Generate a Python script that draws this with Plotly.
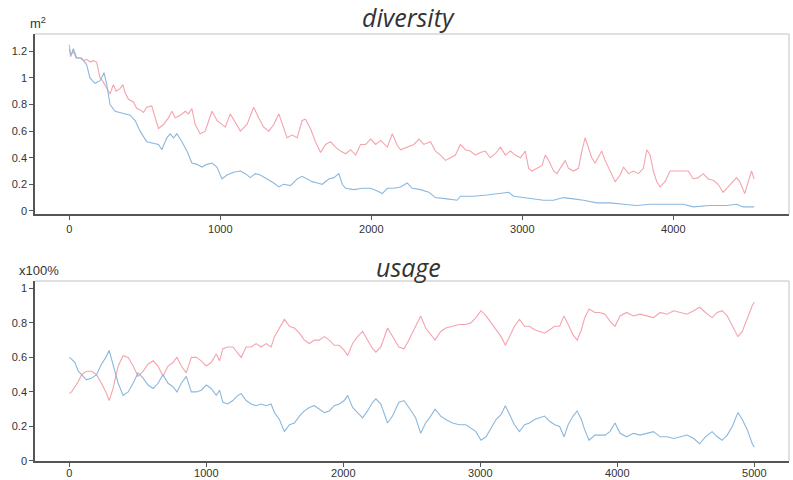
import plotly.graph_objects as go

# ---------------- data: diversity ----------------
div_red_x = [0, 8, 15, 27, 45, 71, 95, 115, 140, 159,
             181, 195, 204, 220, 248, 270, 292, 310, 336, 355,
             369, 392, 425, 447, 470, 491, 513, 546, 569, 591,
             624, 657, 679, 701, 735, 768, 790, 812, 834, 867,
             900, 945, 978, 1000, 1033, 1066, 1100, 1133, 1177, 1221,
             1254, 1288, 1321, 1354, 1388, 1420, 1442, 1476, 1509, 1542,
             1564, 1597, 1630, 1664, 1697, 1730, 1763, 1796, 1830, 1863,
             1896, 1929, 1962, 1996, 2029, 2062, 2106, 2139, 2173, 2194,
             2238, 2282, 2315, 2348, 2392, 2425, 2458, 2491, 2524, 2557,
             2590, 2623, 2656, 2689, 2722, 2755, 2788, 2821, 2855, 2888,
             2921, 2954, 2987, 3020, 3042, 3064, 3097, 3130, 3152, 3174,
             3207, 3229, 3251, 3284, 3306, 3339, 3372, 3394, 3416, 3438,
             3460, 3482, 3504, 3526, 3548, 3581, 3615, 3648, 3670, 3703,
             3736, 3769, 3802, 3824, 3846, 3868, 3890, 3912, 3945, 3978,
             4022, 4066, 4099, 4132, 4165, 4198, 4231, 4264, 4297, 4330,
             4363, 4396, 4418, 4440, 4473, 4496, 4518, 4535]
div_red_y = [1.25, 1.16, 1.18, 1.20, 1.15, 1.15, 1.13, 1.14, 1.12, 1.13,
             1.12, 1.05, 1.00, 0.98, 0.92, 0.88, 0.95, 0.90, 0.92, 0.95,
             0.89, 0.84, 0.82, 0.77, 0.76, 0.74, 0.78, 0.79, 0.70, 0.62,
             0.65, 0.70, 0.75, 0.70, 0.72, 0.75, 0.73, 0.77, 0.65, 0.58,
             0.60, 0.75, 0.68, 0.66, 0.63, 0.73, 0.66, 0.60, 0.65, 0.78,
             0.70, 0.63, 0.60, 0.65, 0.73, 0.62, 0.55, 0.57, 0.55, 0.68,
             0.69, 0.62, 0.52, 0.44, 0.50, 0.52, 0.48, 0.45, 0.43, 0.46,
             0.42, 0.50, 0.50, 0.54, 0.50, 0.53, 0.48, 0.58, 0.49, 0.46,
             0.48, 0.50, 0.54, 0.50, 0.52, 0.45, 0.42, 0.38, 0.40, 0.42,
             0.50, 0.46, 0.45, 0.42, 0.44, 0.45, 0.40, 0.43, 0.48, 0.42,
             0.45, 0.42, 0.40, 0.45, 0.32, 0.30, 0.32, 0.34, 0.42, 0.38,
             0.30, 0.28, 0.32, 0.38, 0.32, 0.30, 0.32, 0.45, 0.55, 0.48,
             0.40, 0.36, 0.40, 0.45, 0.38, 0.30, 0.22, 0.27, 0.33, 0.28,
             0.30, 0.28, 0.32, 0.46, 0.42, 0.30, 0.22, 0.18, 0.22, 0.30,
             0.30, 0.30, 0.30, 0.24, 0.25, 0.28, 0.24, 0.23, 0.20, 0.14,
             0.18, 0.22, 0.25, 0.22, 0.13, 0.22, 0.30, 0.24]

div_blue_x = [0, 12, 27, 49, 82, 115, 137, 170, 204, 230,
              248, 270, 303, 336, 369, 403, 436, 469, 513, 558,
              591, 613, 646, 668, 690, 712, 746, 779, 812, 845,
              878, 912, 945, 978, 1011, 1044, 1088, 1133, 1166, 1199,
              1232, 1265, 1310, 1354, 1388, 1420, 1465, 1509, 1542, 1575,
              1608, 1642, 1675, 1719, 1752, 1785, 1808, 1830, 1885, 1940,
              1996, 2040, 2073, 2106, 2150, 2194, 2238, 2271, 2326, 2381,
              2425, 2502, 2568, 2590, 2678, 2766, 2844, 2910, 2943, 3009,
              3075, 3141, 3207, 3273, 3339, 3405, 3493, 3581, 3670, 3758,
              3846, 3956, 4066, 4132, 4242, 4352, 4418, 4462, 4535]
div_blue_y = [1.22, 1.17, 1.22, 1.15, 1.15, 1.10, 1.00, 0.96, 0.98, 1.04,
              0.95, 0.80, 0.75, 0.74, 0.73, 0.72, 0.68, 0.60, 0.52, 0.51,
              0.50, 0.46, 0.55, 0.58, 0.55, 0.58, 0.52, 0.45, 0.36, 0.35,
              0.33, 0.35, 0.36, 0.33, 0.24, 0.27, 0.29, 0.30, 0.28, 0.25,
              0.28, 0.27, 0.24, 0.21, 0.18, 0.20, 0.19, 0.24, 0.26, 0.24,
              0.22, 0.21, 0.20, 0.24, 0.25, 0.28, 0.20, 0.17, 0.16, 0.17,
              0.17, 0.15, 0.13, 0.17, 0.17, 0.18, 0.21, 0.17, 0.16, 0.14,
              0.10, 0.09, 0.08, 0.11, 0.11, 0.12, 0.13, 0.14, 0.11, 0.10,
              0.09, 0.08, 0.08, 0.10, 0.09, 0.08, 0.06, 0.06, 0.05, 0.04,
              0.05, 0.05, 0.05, 0.03, 0.04, 0.04, 0.05, 0.03, 0.03]

# ---------------- data: usage ----------------
use_x = [0, 17, 41, 66, 90, 126, 163, 199, 235, 267,
         291, 320, 357, 393, 430, 466, 502, 539, 575, 612,
         648, 684, 721, 757, 786, 818, 854, 891, 927, 964,
         1000, 1036, 1073, 1097, 1121, 1158, 1194, 1231, 1255, 1291,
         1328, 1364, 1400, 1437, 1473, 1498, 1534, 1570, 1607, 1643,
         1680, 1716, 1752, 1789, 1825, 1862, 1898, 1934, 1971, 2007,
         2032, 2068, 2104, 2141, 2177, 2214, 2238, 2274, 2323, 2359,
         2406, 2443, 2479, 2528, 2565, 2601, 2638, 2670, 2711, 2748,
         2797, 2846, 2895, 2932, 2968, 3005, 3042, 3078, 3115, 3152,
         3183, 3213, 3249, 3286, 3323, 3359, 3396, 3433, 3469, 3506,
         3543, 3579, 3611, 3641, 3677, 3707, 3738, 3762, 3794, 3836,
         3873, 3910, 3946, 3983, 4020, 4068, 4117, 4166, 4215, 4264,
         4313, 4362, 4411, 4460, 4509, 4557, 4601, 4643, 4692, 4729,
         4765, 4802, 4839, 4880, 4912, 4949, 4985, 5000]
use_red_y = [0.39, 0.40, 0.43, 0.46, 0.50, 0.52, 0.52, 0.50, 0.45, 0.40,
             0.35, 0.42, 0.55, 0.61, 0.60, 0.55, 0.49, 0.52, 0.56, 0.58,
             0.55, 0.49, 0.55, 0.57, 0.60, 0.55, 0.51, 0.60, 0.60, 0.58,
             0.55, 0.57, 0.62, 0.58, 0.65, 0.66, 0.66, 0.62, 0.60, 0.66,
             0.66, 0.68, 0.66, 0.68, 0.66, 0.72, 0.77, 0.82, 0.78, 0.77,
             0.74, 0.70, 0.68, 0.70, 0.70, 0.72, 0.70, 0.67, 0.67, 0.64,
             0.61, 0.68, 0.72, 0.75, 0.70, 0.65, 0.63, 0.66, 0.77, 0.72,
             0.66, 0.65, 0.70, 0.78, 0.84, 0.77, 0.73, 0.70, 0.75, 0.77,
             0.78, 0.79, 0.79, 0.80, 0.83, 0.87, 0.84, 0.80, 0.76, 0.72,
             0.67, 0.72, 0.78, 0.82, 0.78, 0.78, 0.76, 0.75, 0.74, 0.76,
             0.78, 0.78, 0.84, 0.79, 0.73, 0.70, 0.76, 0.83, 0.88, 0.86,
             0.86, 0.85, 0.81, 0.78, 0.84, 0.86, 0.84, 0.85, 0.84, 0.83,
             0.86, 0.85, 0.87, 0.86, 0.85, 0.87, 0.89, 0.86, 0.83, 0.86,
             0.87, 0.84, 0.78, 0.72, 0.75, 0.83, 0.90, 0.92]
use_blue_y = [0.60, 0.59, 0.57, 0.52, 0.50, 0.47, 0.48, 0.50, 0.56, 0.60,
              0.64, 0.55, 0.45, 0.38, 0.40, 0.45, 0.51, 0.48, 0.44, 0.42,
              0.45, 0.50, 0.45, 0.43, 0.40, 0.45, 0.49, 0.40, 0.40, 0.41,
              0.44, 0.42, 0.38, 0.41, 0.34, 0.33, 0.35, 0.38, 0.39, 0.35,
              0.33, 0.32, 0.33, 0.32, 0.33, 0.28, 0.24, 0.17, 0.21, 0.22,
              0.26, 0.29, 0.31, 0.32, 0.30, 0.28, 0.29, 0.32, 0.33, 0.35,
              0.38, 0.31, 0.28, 0.25, 0.29, 0.34, 0.36, 0.33, 0.22, 0.26,
              0.34, 0.35, 0.31, 0.25, 0.16, 0.22, 0.26, 0.30, 0.26, 0.24,
              0.22, 0.21, 0.21, 0.19, 0.17, 0.12, 0.14, 0.19, 0.24, 0.27,
              0.32, 0.27, 0.21, 0.17, 0.21, 0.22, 0.24, 0.25, 0.26, 0.23,
              0.21, 0.20, 0.14, 0.21, 0.26, 0.29, 0.24, 0.18, 0.12, 0.15,
              0.15, 0.15, 0.17, 0.22, 0.16, 0.14, 0.16, 0.15, 0.16, 0.17,
              0.14, 0.14, 0.13, 0.14, 0.15, 0.13, 0.10, 0.14, 0.17, 0.14,
              0.12, 0.15, 0.20, 0.28, 0.24, 0.18, 0.10, 0.08]

div_ticks = [0, 0.2, 0.4, 0.6, 0.8, 1, 1.2]
use_ticks = [0, 0.2, 0.4, 0.6, 0.8, 1]
div_xticks = [0, 1000, 2000, 3000, 4000]
use_xticks = [0, 1000, 2000, 3000, 4000, 5000]

RED = "#f5a3ad"
BLUE = "#8ab8de"
AXIS = "#555555"
FRAME = "#d6d6d6"
TXT = "#333333"

fig = go.Figure()
fig.add_trace(go.Scatter(x=div_red_x, y=div_red_y, mode="lines",
                         line=dict(color=RED, width=1.1), xaxis="x", yaxis="y"))
fig.add_trace(go.Scatter(x=div_blue_x, y=div_blue_y, mode="lines",
                         line=dict(color=BLUE, width=1.1), xaxis="x", yaxis="y"))
fig.add_trace(go.Scatter(x=use_x, y=use_red_y, mode="lines",
                         line=dict(color=RED, width=1.1), xaxis="x2", yaxis="y2"))
fig.add_trace(go.Scatter(x=use_x, y=use_blue_y, mode="lines",
                         line=dict(color=BLUE, width=1.1), xaxis="x2", yaxis="y2"))

axis_common = dict(showgrid=False, zeroline=False, showline=True, linecolor=AXIS,
                   linewidth=1.5, ticks="outside", ticklen=4, tickwidth=1,
                   tickcolor=AXIS, tickfont=dict(family="Liberation Sans, Arial", size=11, color=TXT),
                   automargin=False)

fig.update_layout(
    width=793, height=480,
    margin=dict(l=35, r=4, t=34, b=19),
    paper_bgcolor="white", plot_bgcolor="white",
    showlegend=False,
    xaxis=dict(domain=[0, 1], anchor="y", range=[-227, 4766], tickvals=div_xticks, **axis_common),
    yaxis=dict(domain=[0.578, 1], anchor="x", range=[-0.025, 1.331], tickvals=div_ticks, **axis_common),
    xaxis2=dict(domain=[0, 1], anchor="y2", range=[-250, 5253], tickvals=use_xticks,
                ticklabelstandoff=-3, **axis_common),
    yaxis2=dict(domain=[0, 0.4215], anchor="x2", range=[0, 1.042], tickvals=use_ticks, **axis_common),
)

# light top/right frame lines
for xr, yr in (("x domain", "y domain"), ("x2 domain", "y2 domain")):
    fig.add_shape(type="line", xref=xr, yref=yr, x0=0, x1=1, y0=1, y1=1,
                  line=dict(color=FRAME, width=1.5))
    fig.add_shape(type="line", xref=xr, yref=yr, x0=1, x1=1, y0=0, y1=1,
                  line=dict(color=FRAME, width=1.5))

title_font = dict(family="Open Sans", size=25, color="#333333", style="italic")
fig.add_annotation(text="diversity", xref="paper", yref="paper", x=0.495, y=1.040,
                   xanchor="center", yanchor="middle", showarrow=False, font=title_font,
                   borderpad=0)
fig.add_annotation(text="usage", xref="paper", yref="paper", x=0.495, y=0.454,
                   xanchor="center", yanchor="middle", showarrow=False, font=title_font,
                   borderpad=0)

unit_font = dict(family="Liberation Sans, Arial", size=13, color=TXT)
fig.add_annotation(text="m<sup>2</sup>", xref="paper", yref="paper", x=0.004, y=1.025,
                   xanchor="center", yanchor="middle", showarrow=False, font=unit_font)
fig.add_annotation(text="x100%", xref="paper", yref="paper", x=0.005, y=0.447,
                   xanchor="center", yanchor="middle", showarrow=False, font=unit_font)

# remove the default page margin so the figure sits at the window's top-left corner
fig.write_html("out.html", config={"displayModeBar": False},
               post_script="document.body.style.margin='0';")
